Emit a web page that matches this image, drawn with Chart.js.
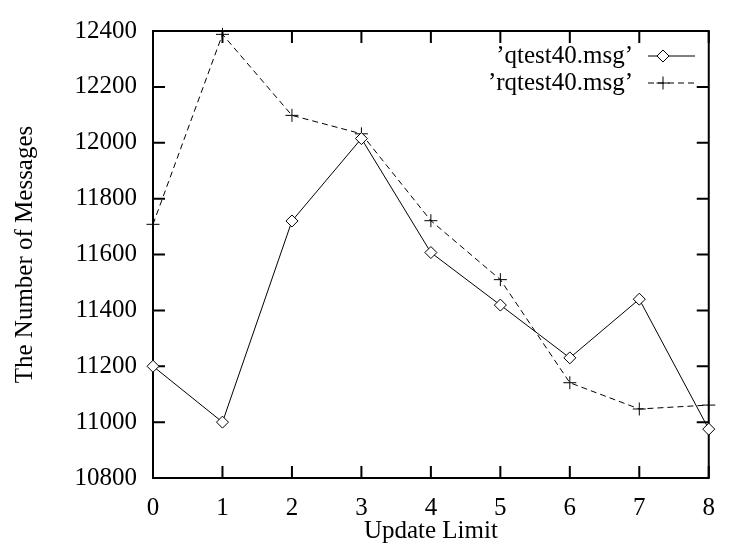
<!DOCTYPE html>
<html>
<head>
<meta charset="utf-8">
<script src="https://cdn.jsdelivr.net/npm/chart.js@4/dist/chart.umd.min.js"></script>
<style>
  body { margin: 0; background: #fff; font-family: 'Liberation Serif', serif; }
</style>
</head>
<body>
<canvas id="grafico" width="730" height="548"></canvas>
<script>
// Dados
const limites = ['0', '1', '2', '3', '4', '5', '6', '7', '8'];
const qtest = [11200, 11000, 11720, 12015, 11607, 11419, 11230, 11440, 10975];
const rqtest = [11708, 12388, 12098, 12032, 11721, 11510, 11141, 11047, 11061];
const yMin = 10800;
const yMax = 12400;
const yPasso = 200;
const nomesSeries = ['\u2019qtest40.msg\u2019', '\u2019rqtest40.msg\u2019'];

const FONTE = "'Liberation Serif', 'Times New Roman', Times, serif";
Chart.defaults.font.family = FONTE;
Chart.defaults.font.size = 25;
Chart.defaults.color = '#000';

// Moldura, ticks para dentro e legenda no estilo gnuplot
const estiloGnuplot = {
    id: 'estiloGnuplot',
    beforeDatasetsDraw(chart) {
        const { ctx, chartArea: a } = chart;
        const x = chart.scales.x, y = chart.scales.y;
        ctx.save();
        ctx.strokeStyle = '#000';
        ctx.lineWidth = 2;
        ctx.beginPath();
        y.ticks.forEach(t => {
            const py = y.getPixelForValue(t.value);
            ctx.moveTo(a.left, py); ctx.lineTo(a.left + 12, py);
            ctx.moveTo(a.right, py); ctx.lineTo(a.right - 12, py);
        });
        x.ticks.forEach((t, i) => {
            const px = x.getPixelForTick(i);
            ctx.moveTo(px, a.bottom); ctx.lineTo(px, a.bottom - 12);
            ctx.moveTo(px, a.top); ctx.lineTo(px, a.top + 12);
        });
        ctx.stroke();
        ctx.strokeRect(a.left, a.top, a.right - a.left, a.bottom - a.top);
        ctx.restore();
    },
    afterDatasetsDraw(chart) {
        const { ctx } = chart;
        ctx.save();
        ctx.font = '25px ' + FONTE;
        ctx.fillStyle = '#000';
        ctx.textAlign = 'right';
        ctx.textBaseline = 'middle';
        ctx.strokeStyle = '#000';
        ctx.lineWidth = 1;
        const linhas = [56, 83];
        chart.data.datasets.forEach((ds, i) => {
            const ly = linhas[i];
            ctx.fillText(nomesSeries[i], 633, ly);
            ctx.setLineDash(ds.borderDash || []);
            ctx.beginPath();
            ctx.moveTo(648, ly); ctx.lineTo(695, ly);
            ctx.stroke();
            ctx.setLineDash([]);
            const r = ds.pointRadius;
            ctx.beginPath();
            if (ds.pointStyle === 'rectRot') {
                ctx.moveTo(663, ly - r); ctx.lineTo(663 + r, ly);
                ctx.lineTo(663, ly + r); ctx.lineTo(663 - r, ly);
                ctx.closePath();
                ctx.fillStyle = '#fff';
                ctx.fill();
            } else {
                ctx.moveTo(663 - r, ly); ctx.lineTo(663 + r, ly);
                ctx.moveTo(663, ly - r); ctx.lineTo(663, ly + r);
            }
            ctx.stroke();
            ctx.fillStyle = '#000';
        });
        ctx.restore();
    }
};

const ctx = document.getElementById('grafico').getContext('2d');
const grafico = new Chart(ctx, {
    type: 'line',
    data: {
        labels: limites,
        datasets: [{
            label: nomesSeries[0],
            data: qtest,
            borderColor: '#000',
            borderWidth: 1,
            pointStyle: 'rectRot',
            pointRadius: 6,
            pointBorderWidth: 1,
            pointBorderColor: '#000',
            pointBackgroundColor: '#fff',
            tension: 0,
            clip: false
        }, {
            label: nomesSeries[1],
            data: rqtest,
            borderColor: '#000',
            borderWidth: 1,
            borderDash: [6, 4],
            pointStyle: 'cross',
            pointRadius: 6.5,
            pointBorderWidth: 1,
            pointBorderColor: '#000',
            tension: 0,
            clip: false
        }]
    },
    options: {
        responsive: false,
        animation: false,
        layout: {
            autoPadding: false,
            padding: { top: 18, right: 7, bottom: 0, left: 0 }
        },
        plugins: {
            legend: { display: false },
            tooltip: { enabled: false }
        },
        scales: {
            x: {
                type: 'category',
                offset: false,
                grid: { display: false, drawTicks: false },
                border: { display: false },
                ticks: { padding: 15, maxRotation: 0, autoSkip: false },
                title: {
                    display: true,
                    text: 'Update Limit',
                    padding: { top: 0, bottom: 2 }
                },
                afterFit(s) { s.height = 70; }
            },
            y: {
                min: yMin,
                max: yMax,
                grid: { display: false, drawTicks: false },
                border: { display: false },
                ticks: {
                    stepSize: yPasso,
                    padding: 16,
                    callback: v => String(v)
                },
                title: {
                    display: true,
                    text: 'The Number of Messages',
                    padding: { top: 10, bottom: 0 }
                },
                afterFit(s) { s.width = 153; }
            }
        }
    },
    plugins: [estiloGnuplot]
});
</script>
</body>
</html>
